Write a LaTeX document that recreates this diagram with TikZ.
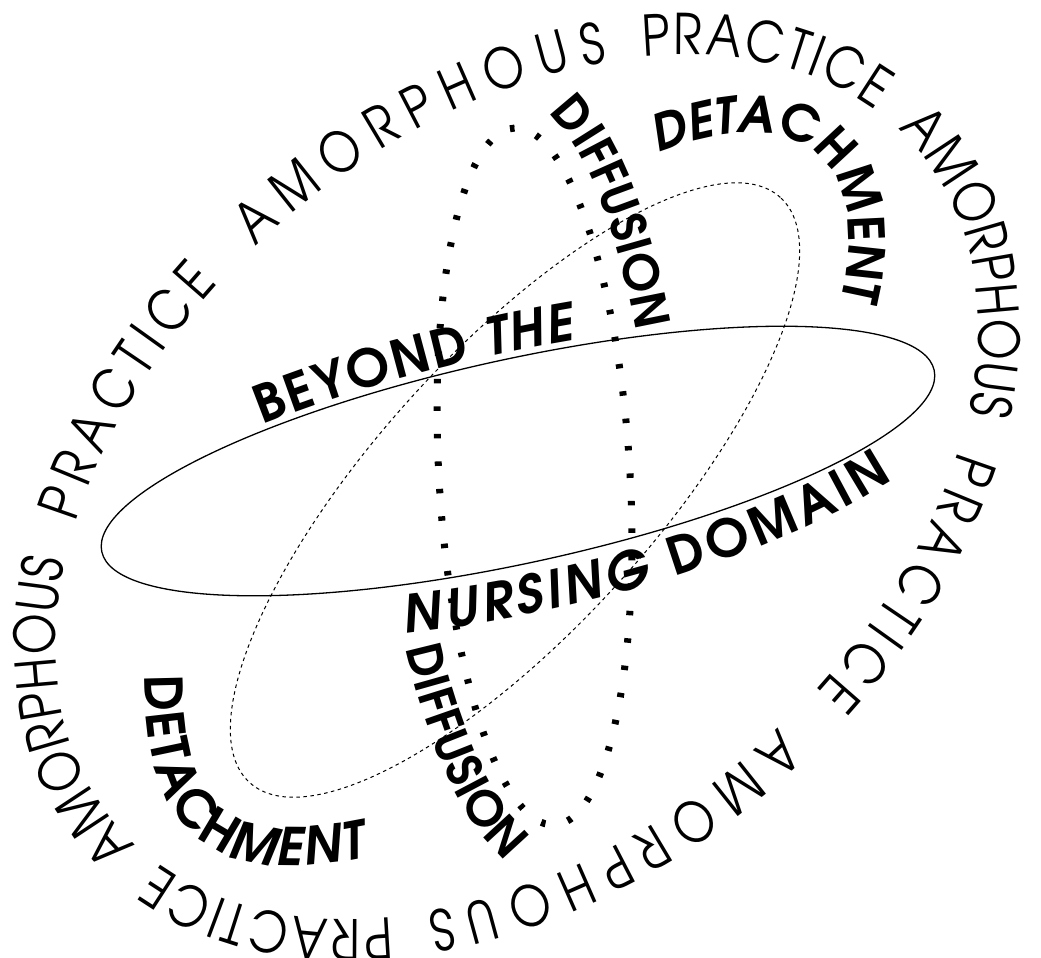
\documentclass[tikz,border=0pt]{standalone}
\usepackage{fontspec}
\newfontfamily\adv{texgyreadventor}[Extension=.otf, UprightFont=*-regular, BoldFont=*-bold, ItalicFont=*-italic, BoldItalicFont=*-bolditalic]
\newfontfamily\advn{texgyreadventor}[Extension=.otf, UprightFont=*-regular, BoldFont=*-bold, ItalicFont=*-italic, BoldItalicFont=*-bolditalic, FakeStretch=0.84]
\usetikzlibrary{decorations.text}
\newcommand\OuterTxt{\advn\fontsize{56}{56}\selectfont}
\newcommand\InnerTxt{\adv\bfseries\fontsize{52}{52}\selectfont}
\newcommand\InnerIt{\adv\bfseries\itshape\fontsize{52}{52}\selectfont}
\newcommand\DiffTxt{\adv\bfseries\fontsize{48}{48}\selectfont}
\newcommand\DetTxt{\adv\bfseries\fontsize{50}{50}\selectfont}
\newcommand\DetIt{\adv\bfseries\itshape\fontsize{50}{50}\selectfont}
\newcommand\InnerBig{\adv\bfseries\fontsize{52}{52}\selectfont}
\newcommand\InnerBigIt{\adv\bfseries\itshape\fontsize{52}{52}\selectfont}
\tikzset{
  ellarc/.style n args={7}{insert path={plot[domain=#6:#7, samples=240, variable=\t]
    ({#1+#4*cos(\t)*cos(#3)-#5*sin(\t)*sin(#3)},{#2+#4*cos(\t)*sin(#3)+#5*sin(\t)*cos(#3)})}},
  solidell/.style={line width=1.3pt},
  thinell/.style={line width=1pt, dash pattern=on 3.5pt off 3.5pt},
  thickell/.style={line width=7pt, dash pattern=on 4.5pt off 23pt},
  curvetext/.style={decorate, decoration={text along path, text={#1}, text align={fit to path}}},
  outerword/.style n args={3}{curvetext={|\OuterTxt|#1}, ellarc={517}{471}{40}{524}{354}{#2}{#3}}
}
\begin{document}
\begin{tikzpicture}[x=1pt,y=1pt]
\useasboundingbox (0,0) rectangle (1041,958);
% ellipses
\coordinate (c1) at (518,497);
\coordinate (c2) at (515,468);
\coordinate (c3) at (534.5,481.5);
\draw[solidell, rotate around={12.3:(c1)}] (c1) ellipse[x radius=426pt, y radius=102pt];
\draw[thinell, rotate around={47.8:(c2)}] (c2) ellipse[x radius=395pt, y radius=139pt];
\draw[thickell, rotate around={93.3:(c3)}] (c3) ellipse[x radius=349pt, y radius=95.5pt];
% outer ring of text
\path[outerword={AMORPHOUS}{184.75}{138.6}];
\path[outerword={PRACTICE}{133.6}{100.8}];
\path[outerword={AMORPHOUS}{95}{49.2}];
\path[outerword={PRACTICE}{44.6}{9.4}];
\path[outerword={AMORPHOUS}{4.75}{-41.4}];
\path[outerword={PRACTICE}{-46.4}{-79.2}];
\path[outerword={AMORPHOUS}{-85}{-130.8}];
\path[outerword={PRACTICE}{-135.4}{-170.6}];
% inner texts
\path[curvetext={|\InnerTxt|BEYOND |\InnerIt|THE},
  ellarc={518}{497}{12.3}{432}{108}{124}{79}];
\path[curvetext={|\InnerIt|NURSING |\InnerTxt|DOMAIN},
  ellarc={518}{497}{12.3}{474}{152}{-108}{-40}];
\path[curvetext={|\DiffTxt|DIFFUSION},
  ellarc={534.5}{481.5}{93.3}{378}{118}{-17}{-66}];
\path[curvetext={|\DiffTxt|DIFFUSION},
  ellarc={534.5}{481.5}{93.3}{405}{151.5}{114}{160}];
\path[curvetext={|\DetIt|DETA|\DetTxt|CHMENT},
  ellarc={515}{468}{47.8}{452}{187}{40}{-37}];
\coordinate (d0) at (145,283);
\coordinate (d1) at (367,101);
\path[curvetext={|\InnerBig|DETACH|\InnerBigIt|MENT}]
  (d0) .. controls (143,128) and (210,68) .. (d1);
\end{tikzpicture}
\end{document}
